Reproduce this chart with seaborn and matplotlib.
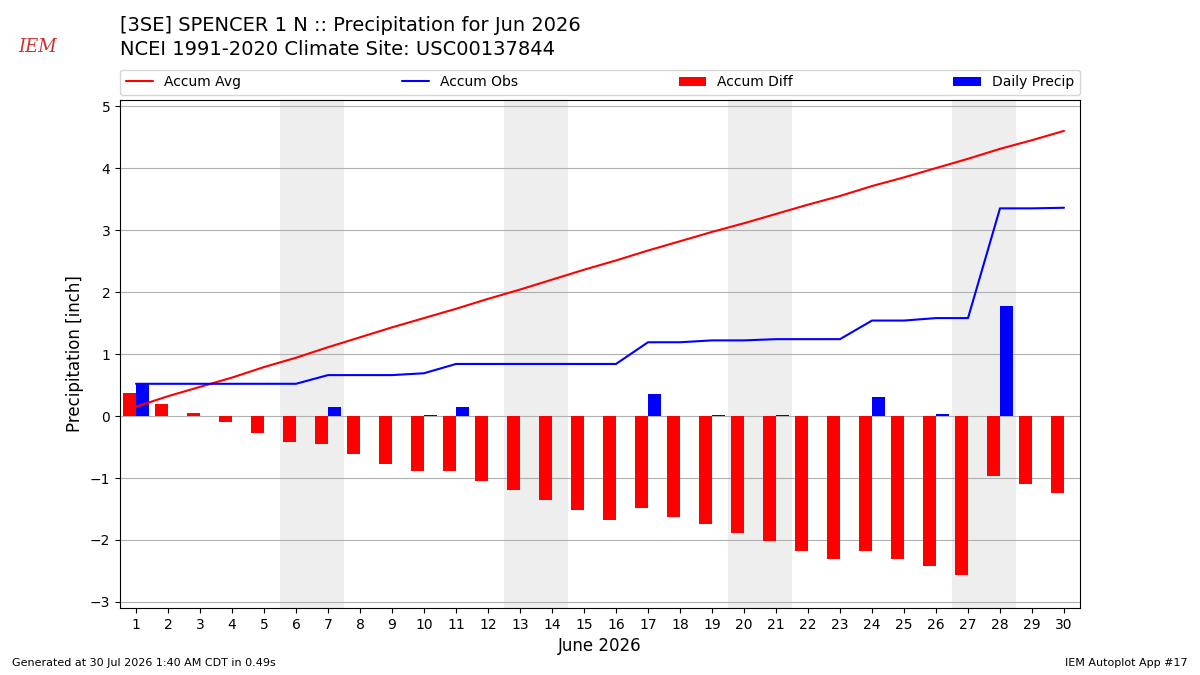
import numpy as np
import matplotlib
matplotlib.use("Agg")
import matplotlib.pyplot as plt
import pandas as pd
import seaborn as sns

days = list(range(1, 31))
daily_precip = [0.52, 0.0, 0.0, 0.0, 0.0, 0.0, 0.14, 0.0, 0.0, 0.02,
                0.15, 0.0, 0.0, 0.0, 0.0, 0.0, 0.35, 0.0, 0.02, 0.0,
                0.01, 0.0, 0.0, 0.30, 0.0, 0.04, 0.0, 1.77, 0.0, 0.0]
accum_obs = [0.52, 0.52, 0.52, 0.52, 0.52, 0.52, 0.66, 0.66, 0.66, 0.69,
             0.84, 0.84, 0.84, 0.84, 0.84, 0.84, 1.19, 1.19, 1.22, 1.22,
             1.24, 1.24, 1.24, 1.54, 1.54, 1.58, 1.58, 3.35, 3.35, 3.36]
accum_avg = [0.15, 0.32, 0.47, 0.62, 0.79, 0.94, 1.11, 1.27, 1.43, 1.58,
             1.73, 1.89, 2.04, 2.20, 2.36, 2.51, 2.67, 2.82, 2.97, 3.11,
             3.26, 3.41, 3.55, 3.71, 3.85, 4.00, 4.15, 4.31, 4.45, 4.60]
weekends = [6, 13, 20, 27]

df = pd.DataFrame({"day": days, "precip": daily_precip,
                   "obs": accum_obs, "avg": accum_avg})
df["diff"] = df["obs"] - df["avg"]

sns.set_style("white")
plt.rcParams["font.family"] = ["DejaVu Sans"]
plt.rcParams.update({"text.color": "black", "axes.labelcolor": "black",
                     "xtick.color": "black", "ytick.color": "black"})

fig = plt.figure(figsize=(12, 6.75), dpi=100)
ax = fig.add_axes([0.1, 0.099, 0.8, 0.753])

# weekend shading
for w in weekends:
    ax.axvspan(w - 0.5, w + 1.5, color="#eeeeee", zorder=0, lw=0)

sns.lineplot(data=df, x="day", y="avg", color="red", lw=1.5, ax=ax, label="Accum Avg", zorder=3)
sns.lineplot(data=df, x="day", y="obs", color="blue", lw=1.5, ax=ax, label="Accum Obs", zorder=3)
ax.bar(df["day"], df["diff"], width=-0.4, align="edge", color="red", lw=0,
       label="Accum Diff", zorder=2)
ax.bar(df["day"], df["precip"], width=0.4, align="edge", color="blue", lw=0,
       label="Daily Precip", zorder=2)

ax.set_xlim(0.5, 30.5)
ax.set_ylim(-3.1, 5.1)
ax.set_xticks(days)
ax.set_xticklabels([str(d) for d in days])
ax.set_yticks(range(-3, 6))
ax.set_yticklabels(["\u2212" + str(-v) if v < 0 else str(v) for v in range(-3, 6)])
ax.yaxis.grid(True, color="#b0b0b0", lw=0.8)
ax.tick_params(axis="both", labelsize=10, length=3.5, direction="out", bottom=True, left=True)
ax.set_xlabel("June 2026", fontsize=12)
ax.set_ylabel("Precipitation [inch]", fontsize=12)
for s in ax.spines.values():
    s.set_color("black")
    s.set_linewidth(0.8)

ax.legend(loc="lower left", bbox_to_anchor=(0, 1.01, 1, 0.1), ncol=4, mode="expand",
          fontsize=10, frameon=True, borderaxespad=0)

fig.text(0.1, 0.962, "[3SE] SPENCER 1 N :: Precipitation for Jun 2026", fontsize=14, va="center")
fig.text(0.1, 0.926, "NCEI 1991-2020 Climate Site: USC00137844", fontsize=14, va="center")
fig.text(0.031, 0.93, "IEM", color="#d03030", fontsize=13, style="italic",
         family="DejaVu Serif", va="center", ha="center")
fig.text(0.01, 0.014, "Generated at 30 Jul 2026 1:40 AM CDT in 0.49s", fontsize=8)
fig.text(0.99, 0.014, "IEM Autoplot App #17", fontsize=8, ha="right")

fig.savefig("out.png", dpi=100)
